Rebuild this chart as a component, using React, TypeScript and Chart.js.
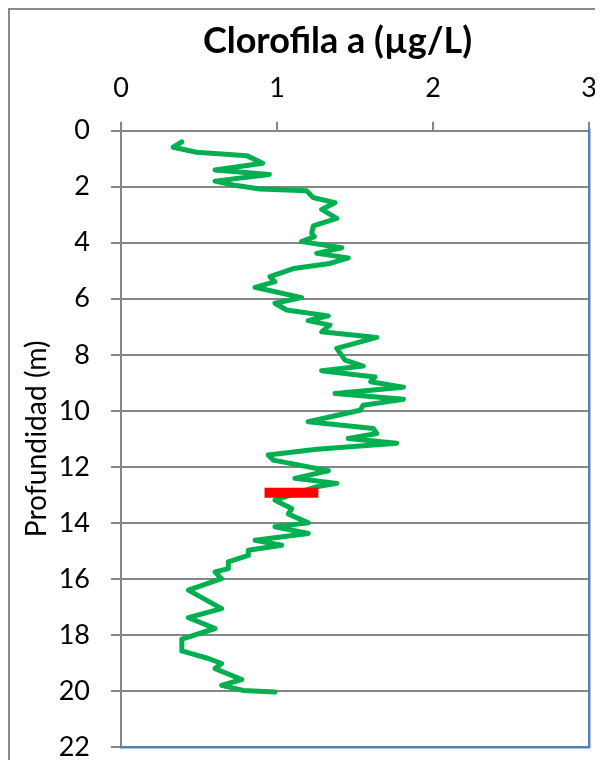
import React, { useEffect, useRef } from "react";
import { Chart, registerables } from "chart.js";

Chart.register(...registerables);

// Clorofila a (µg/L) profile vs depth (m)
const depthM = [
  0.4, 0.59, 0.77, 0.89, 1.16, 1.4, 1.56, 1.8, 1.94, 2.08,
  2.14, 2.39, 2.57, 2.81, 3.13, 3.4, 3.66, 3.78, 3.96, 4.18,
  4.38, 4.54, 4.74, 4.92, 5.21, 5.39, 5.59, 5.96, 6.16, 6.4,
  6.61, 6.78, 6.94, 7.18, 7.38, 7.77, 8.19, 8.4, 8.57, 8.79,
  8.96, 9.16, 9.38, 9.59, 9.8, 9.98, 10.39, 10.63, 10.81, 10.99,
  11.16, 11.37, 11.58, 11.76, 12.14, 12.41, 12.59, 12.71, 13.19, 13.49,
  13.68, 14.0, 14.14, 14.38, 14.62, 14.8, 14.98, 15.16, 15.39, 15.63,
  15.75, 15.99, 16.4, 17.06, 17.38, 17.77, 18.15, 18.57, 18.84, 19.02,
  19.2, 19.59, 19.8, 19.98, 20.04,
];
const chlA = [
  0.39, 0.335, 0.485, 0.806, 0.908, 0.603, 0.951, 0.603, 0.72, 0.89,
  1.19, 1.233, 1.372, 1.286, 1.383, 1.233, 1.222, 1.24, 1.158, 1.415,
  1.255, 1.457, 1.34, 1.105, 0.955, 0.987, 0.859, 1.158, 0.987, 1.062,
  1.329, 1.2, 1.34, 1.286, 1.639, 1.383, 1.436, 1.553, 1.286, 1.628,
  1.6, 1.81, 1.372, 1.81, 1.553, 1.532, 1.2, 1.617, 1.639, 1.457,
  1.767, 1.255, 0.944, 0.977, 1.329, 1.115, 1.383, 1.255, 0.987, 1.094,
  1.073, 1.2, 0.987, 1.2, 0.859, 1.03, 0.816, 0.816, 0.688, 0.688,
  0.603, 0.645, 0.432, 0.645, 0.432, 0.603, 0.39, 0.39, 0.56, 0.645,
  0.603, 0.774, 0.645, 0.784, 0.987,
];

// red marker bar
const markerChl = [0.92, 1.265];
const markerDepth = [12.92, 12.92];

const xMin = 0;
const xMax = 3;
const xStep = 1;
const yMin = 0;
const yMax = 22;
const yStep = 2;

const titleText = "Clorofila a (\u00b5g/L)";
const yTitleText = "Profundidad (m)";

const FONT = "Lato";
const GRID = "#868686";
const BLUE = "#4F81BD";

export default function App() {
  const ref = useRef<HTMLCanvasElement | null>(null);

  useEffect(() => {
    if (!ref.current) return;
    const profile = depthM.map((d, i) => ({ x: chlA[i], y: d }));
    const marker = markerDepth.map((d, i) => ({ x: markerChl[i], y: d }));

    const chart = new Chart(ref.current, {
      type: "line",
      data: {
        datasets: [
          {
            data: profile,
            borderColor: "#00B050",
            borderWidth: 5,
            pointRadius: 0,
            tension: 0,
            fill: false,
            borderJoinStyle: "round",
            borderCapStyle: "round",
            order: 2,
            xAxisID: "x",
            yAxisID: "y",
          },
          {
            data: marker,
            borderColor: "#FF0000",
            borderWidth: 10,
            pointRadius: 0,
            fill: false,
            borderCapStyle: "butt",
            order: 1,
            xAxisID: "x",
            yAxisID: "y",
          },
        ],
      },
      options: {
        animation: false,
        responsive: true,
        maintainAspectRatio: false,
        layout: { padding: 0 },
        plugins: {
          legend: { display: false },
          tooltip: { enabled: false },
          title: {
            display: true,
            text: titleText,
            color: "#000",
            font: { family: FONT, size: 36, weight: "bold" },
            padding: { top: 9.4, bottom: 9.2 },
          },
        },
        scales: {
          x: {
            type: "linear",
            position: "top",
            min: xMin,
            max: xMax,
            ticks: {
              stepSize: xStep,
              color: "#000",
              font: { family: FONT, size: 27 },
              padding: 17.5,
              maxRotation: 0,
            },
            grid: {
              drawOnChartArea: false,
              drawTicks: true,
              tickLength: 9,
              color: GRID,
              lineWidth: 2,
            },
            border: { display: true, color: GRID, width: 2 },
            afterFit: (s: any) => {
              s.height = 58.9;
              s.paddingLeft = 0;
              s.paddingRight = 0;
            },
          },
          y: {
            type: "linear",
            position: "left",
            reverse: true,
            min: yMin,
            max: yMax,
            ticks: {
              stepSize: yStep,
              color: "#000",
              font: { family: FONT, size: 27 },
              padding: 21,
            },
            grid: {
              drawOnChartArea: true,
              drawTicks: true,
              tickLength: 10,
              color: GRID,
              lineWidth: 2,
            },
            border: { display: true, color: GRID, width: 2 },
            title: {
              display: true,
              text: yTitleText,
              color: "#000",
              font: { family: FONT, size: 28.3 },
              padding: { top: 10, bottom: 0 },
            },
            afterFit: (s: any) => {
              s.width = 111;
              s.paddingTop = 0;
              s.paddingBottom = 0;
            },
          },
          x2: {
            type: "linear",
            position: "bottom",
            min: xMin,
            max: xMax,
            ticks: { display: false },
            grid: { display: false },
            border: { display: true, color: BLUE, width: 2.5 },
            z: 1,
            afterFit: (s: any) => {
              s.height = 13;
              s.paddingLeft = 0;
              s.paddingRight = 0;
            },
          },
          y2: {
            type: "linear",
            position: "right",
            reverse: true,
            min: yMin,
            max: yMax,
            ticks: { display: false },
            grid: { display: false },
            border: { display: true, color: BLUE, width: 2.5 },
            z: 1,
            afterFit: (s: any) => {
              s.width = 76;
              s.paddingTop = 0;
              s.paddingBottom = 0;
            },
          },
        },
      },
    });
    return () => chart.destroy();
  }, []);

  return (
    <div
      style={{
        width: 595,
        height: 752,
        boxSizing: "border-box",
        borderLeft: "2px solid #898989",
        borderTop: "2px solid #898989",
        overflow: "hidden",
        background: "#fff",
      }}
    >
      <div style={{ width: 655, height: 750, position: "relative" }}>
        <canvas ref={ref} />
      </div>
    </div>
  );
}
